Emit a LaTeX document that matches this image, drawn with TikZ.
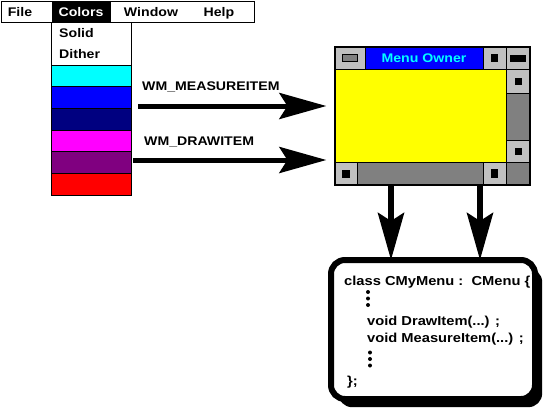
\documentclass[tikz,border=0pt]{standalone}
\usepackage{fontspec}
\setmainfont{Liberation Sans}[FakeStretch=1.13]
\usetikzlibrary{arrows.meta, fit, positioning}

\definecolor{winGray}{RGB}{192,192,192}
\definecolor{darkGray}{RGB}{128,128,128}
\definecolor{menuCyan}{RGB}{0,255,255}
\definecolor{menuBlue}{RGB}{0,0,255}
\definecolor{menuNavy}{RGB}{0,0,128}
\definecolor{menuMagenta}{RGB}{255,0,255}
\definecolor{menuPurple}{RGB}{128,0,128}
\definecolor{menuRed}{RGB}{255,0,0}
\definecolor{menuYellow}{RGB}{255,255,0}

\newcommand\uifont{\fontsize{12.5}{15}\selectfont\bfseries}
\newcommand\codefont{\fontsize{13}{16}\selectfont\bfseries}

\begin{document}
\begin{tikzpicture}[
    x=1pt, y=-1pt,
    pane/.style     = {draw, line width=0.8pt, fill=#1, inner sep=0pt, outer sep=0pt},
    swatch/.style   = {pane=#1, minimum width=80pt, minimum height=21.67pt},
    knob/.style     = {fill=black, inner sep=0pt, outer sep=0pt},
    dotmark/.style  = {circle, fill=black, inner sep=0pt, minimum size=4pt},
    uitext/.style   = {font=\uifont, inner sep=0pt},
    codetext/.style = {font=\codefont, inner sep=0pt, anchor=base west},
    bigarrow/.style = {-{Stealth[length=47pt, width=26pt, inset=8pt]}, line width=5pt},
]
\useasboundingbox (0,0) rectangle (550,408);

%% Menu bar
\node[pane=white, anchor=north west, minimum width=253pt, minimum height=21pt] (menubar) at (1,1) {};
\node[pane=black, anchor=north west, minimum width=58pt, minimum height=21pt] (colsel) at (52,1) {};
\node[uitext, anchor=base] (mFile)   at (20,16)  {File};
\node[uitext, anchor=base, text=white] (mColors) at (81,16) {Colors};
\node[uitext, anchor=base] (mWindow) at (151,16) {Window};
\node[uitext, anchor=base] (mHelp)   at (219,16) {Help};

%% Drop-down with colour items
\node[pane=white, anchor=north west, minimum width=80pt, minimum height=43pt] (dropdown) at (51,22) {};
\node[uitext, anchor=base west] (iSolid)  at (59,37) {Solid};
\node[uitext, anchor=base west] (iDither) at (59,58) {Dither};
\node[swatch=menuCyan, below right=0pt and 0pt of dropdown.south west] (swCyan) {};
\node[swatch=menuBlue,    below=0pt of swCyan]    (swBlue)    {};
\node[swatch=menuNavy,    below=0pt of swBlue]    (swNavy)    {};
\node[swatch=menuMagenta, below=0pt of swNavy]    (swMagenta) {};
\node[swatch=menuPurple,  below=0pt of swMagenta] (swPurple)  {};
\node[swatch=menuRed,     below=0pt of swPurple]  (swRed)     {};

%% Owner window
\node[pane=winGray, anchor=north west, minimum width=30pt, minimum height=22pt] (sysbox) at (335,47) {};
\node[pane=menuBlue, text=menuCyan, font=\uifont, minimum width=118pt, minimum height=22pt,
      right=0pt of sysbox] (title) {Menu Owner};
\node[pane=winGray, minimum width=23pt, minimum height=22pt, right=0pt of title]  (minbtn) {};
\node[pane=winGray, minimum width=24pt, minimum height=22pt, right=0pt of minbtn] (maxbtn) {};
\node[pane=menuYellow, minimum width=171pt, minimum height=93pt,
      below right=0pt and 0pt of sysbox.south west] (client) {};
\node[pane=winGray,  minimum width=24pt, minimum height=24pt,
      below right=0pt and 0pt of client.north east] (vup) {};
\node[pane=darkGray, minimum width=24pt, minimum height=47pt, below=0pt of vup]    (vtrack) {};
\node[pane=winGray,  minimum width=24pt, minimum height=22pt, below=0pt of vtrack] (vdn) {};
\node[pane=winGray,  minimum width=22pt, minimum height=23pt,
      below right=0pt and 0pt of client.south west] (hleft) {};
\node[pane=darkGray, minimum width=126pt, minimum height=23pt, right=0pt of hleft]  (htrack) {};
\node[pane=winGray,  minimum width=23pt,  minimum height=23pt, right=0pt of htrack] (hright) {};
\node[pane=darkGray, minimum width=24pt,  minimum height=23pt, right=0pt of hright] (corner) {};

%% Knobs
\node[knob, draw, line width=0.8pt, fill=darkGray, minimum width=15pt, minimum height=7pt] (sysknob) at (sysbox) {};
\node[knob, minimum width=7pt,  minimum height=8pt] (minknob) at (minbtn) {};
\node[knob, minimum width=16pt, minimum height=7pt] (maxknob) at (maxbtn) {};
\node[knob, minimum width=7pt,  minimum height=7pt] (upknob)  at (vup)    {};
\node[knob, minimum width=7pt,  minimum height=7pt] (dnknob)  at (vdn)    {};
\node[knob, minimum width=8pt,  minimum height=8pt] (lknob)   at (hleft)  {};
\node[knob, minimum width=7pt,  minimum height=9pt] (rknob)   at (hright) {};

\node[draw, line width=1.2pt, inner sep=0pt, fit=(sysbox)(corner)] (owner) {};

%% Messages
\node[uitext, anchor=base west] (lblMeasure) at (142,90)  {WM\_MEASUREITEM};
\node[uitext, anchor=base west] (lblDraw)    at (144,145) {WM\_DRAWITEM};
\coordinate (measureTail) at (138,106);
\coordinate (drawTail)    at (133,160);
\draw[bigarrow, shorten >=8pt] (measureTail) -- (measureTail -| owner.west);
\draw[bigarrow, shorten >=8pt] (drawTail)    -- (drawTail -| owner.west);

%% Class box
\node[fill=black, rounded corners=14pt, inner sep=0pt, minimum width=204pt,
      minimum height=139pt, anchor=north west] (codeShade) at (338,268) {};
\node[draw, line width=6pt, fill=white, rounded corners=14pt, inner sep=0pt, outer sep=0pt,
      minimum width=204pt, minimum height=139pt, anchor=north west] (code) at (331,260) {};

\coordinate (tapL) at (391,185);
\coordinate (tapR) at (480,185);
\draw[bigarrow, line width=6pt] (tapL) -- (tapL |- code.north);
\draw[bigarrow, line width=6pt] (tapR) -- (tapR |- code.north);

\node[codetext] (cLine1) at (344,285) {class CMyMenu :\ \ CMenu \{};
\node[dotmark] (gapA1) at (368,292) {};
\node[dotmark] (gapA2) at (368,298.5) {};
\node[dotmark] (gapA3) at (368,305) {};
\node[codetext] (cLine3) at (367,325) {void DrawItem(...) ;};
\node[codetext] (cLine4) at (367,342) {void MeasureItem(...) ;};
\node[dotmark] (gapB1) at (370,352.5) {};
\node[dotmark] (gapB2) at (370,359) {};
\node[dotmark] (gapB3) at (370,365.5) {};
\node[codetext] (cLine6) at (347,385) {\};};

\end{tikzpicture}
\end{document}
